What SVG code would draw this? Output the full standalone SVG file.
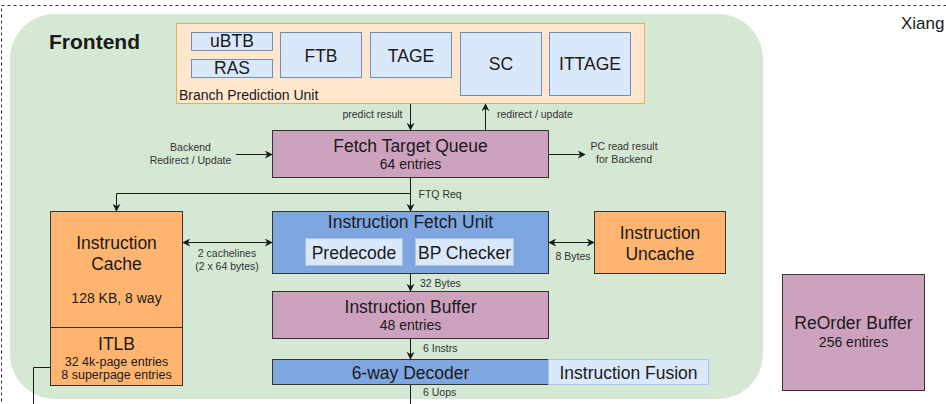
<svg xmlns="http://www.w3.org/2000/svg" width="946" height="404" viewBox="0 0 946 404">
<style>
text{font-family:"Liberation Sans",Arial,sans-serif;fill:#1a1a1a}
.big{font-size:17.5px;text-anchor:middle}
.mid{font-size:14px;text-anchor:middle}
.sm{font-size:12.5px;text-anchor:middle}
.lbl{font-size:10.5px;fill:#333}
.c{text-anchor:middle}
.sub{fill:#dae8fc;stroke:#6c8ebf;stroke-width:1}
.sub2{fill:#dae8fc;stroke:#a9c4eb;stroke-width:1}
.pink{fill:#cda2be;stroke:#333;stroke-width:1}
.blue{fill:#7ea6e0;stroke:#333;stroke-width:1}
.orange{fill:#ffb570;stroke:#333;stroke-width:1}
.ln{fill:none;stroke:#1a1a1a;stroke-width:1}
</style>
<defs>
<marker id="ah" viewBox="0 0 10 10" refX="9" refY="5" markerWidth="8" markerHeight="8" markerUnits="userSpaceOnUse" orient="auto-start-reverse">
<path d="M0,0 L10,5 L0,10 L3,5 Z" fill="#1a1a1a"/>
</marker>
</defs>
<rect x="1.5" y="5.5" width="1000" height="500" fill="none" stroke="#333" stroke-dasharray="3 3"/>
<text x="901" y="29" style="font-size:17px">Xiang</text>
<g id="frontend">
<rect x="10" y="14" width="753" height="385" rx="45" ry="45" fill="#d5e8d4"/>
<text x="49" y="49" style="font-size:21px;font-weight:bold">Frontend</text>
</g>
<g id="bpu">
<rect x="176.5" y="23.5" width="468" height="80" fill="#ffe6cc" stroke="#d6b656"/>
<text x="179" y="100" style="font-size:14px">Branch Prediction Unit</text>
</g>
<g id="ubtb"><rect class="sub" x="191.5" y="32.5" width="81" height="18"/><text class="big" x="232" y="47">uBTB</text></g>
<g id="ras"><rect class="sub" x="191.5" y="59.5" width="81" height="18"/><text class="big" x="232" y="74">RAS</text></g>
<g id="ftb"><rect class="sub" x="280.5" y="32.5" width="81" height="45"/><text class="big" x="321" y="61.5">FTB</text></g>
<g id="tage"><rect class="sub" x="370.5" y="32.5" width="81" height="45"/><text class="big" x="411" y="61.5">TAGE</text></g>
<g id="sc"><rect class="sub" x="460.5" y="32.5" width="81" height="63"/><text class="big" x="501" y="70">SC</text></g>
<g id="ittage"><rect class="sub" x="549.5" y="32.5" width="81" height="63"/><text class="big" x="590" y="70">ITTAGE</text></g>
<g id="ftq"><rect class="pink" x="272.5" y="130.5" width="276" height="47"/><text class="big" x="410.5" y="152">Fetch Target Queue</text><text class="mid" x="410.5" y="169">64 entries</text></g>
<g id="ifu"><rect class="blue" x="272.5" y="211.5" width="276" height="62"/><text class="big" x="410.5" y="227.5">Instruction Fetch Unit</text></g>
<g id="predecode"><rect class="sub2" x="305.5" y="238.5" width="97" height="27"/><text class="big" x="354" y="258.5">Predecode</text></g>
<g id="bpchecker"><rect class="sub2" x="415.5" y="238.5" width="98" height="27"/><text class="big" x="464.5" y="258.5">BP Checker</text></g>
<g id="icache"><rect class="orange" x="50.5" y="211.5" width="132" height="116"/><text class="big" x="116.5" y="248.5">Instruction</text><text class="big" x="116.5" y="270">Cache</text><text class="mid" x="116.5" y="303">128 KB, 8 way</text></g>
<g id="itlb"><rect class="orange" x="50.5" y="327.5" width="132" height="58"/><text class="big" x="116.5" y="350">ITLB</text><text class="sm" x="116.5" y="365.5">32 4k-page entries</text><text class="sm" x="116.5" y="378.5">8 superpage entries</text></g>
<g id="uncache"><rect class="orange" x="594.5" y="211.5" width="131" height="62"/><text class="big" x="660" y="238.5">Instruction</text><text class="big" x="660" y="260">Uncache</text></g>
<g id="ibuf"><rect class="pink" x="272.5" y="291.5" width="276" height="47"/><text class="big" x="410.5" y="313">Instruction Buffer</text><text class="mid" x="410.5" y="330">48 entries</text></g>
<g id="decoder"><rect class="blue" x="272.5" y="359.5" width="276" height="25"/><text class="big" x="410.5" y="379">6-way Decoder</text></g>
<g id="fusion"><rect class="sub2" x="548.5" y="359.5" width="160" height="25"/><text class="big" x="628.5" y="379">Instruction Fusion</text></g>
<g id="rob"><rect class="pink" x="782.5" y="274.5" width="142" height="116"/><text class="big" x="853.5" y="329">ReOrder Buffer</text><text class="mid" x="853.5" y="346.5">256 entires</text></g>
<g id="connectors">
<path class="ln" d="M410.5,104 V130" marker-end="url(#ah)"/>
<text class="lbl" x="402.5" y="118" text-anchor="end">predict result</text>
<path class="ln" d="M485.5,130 V104" marker-end="url(#ah)"/>
<text class="lbl" x="497" y="118">redirect / update</text>
<path class="ln" d="M236,154.5 H272" marker-end="url(#ah)"/>
<text class="lbl c" x="190.5" y="151">Backend</text>
<text class="lbl c" x="190.5" y="163.5">Redirect / Update</text>
<path class="ln" d="M549,154.5 H585" marker-end="url(#ah)"/>
<text class="lbl c" x="624" y="150">PC read result</text>
<text class="lbl c" x="624" y="162.5">for Backend</text>
<path class="ln" d="M410.5,178 V211" marker-end="url(#ah)"/>
<path class="ln" d="M410.5,193.5 H116.5 V211" marker-end="url(#ah)"/>
<text class="lbl" x="418.5" y="197.5">FTQ Req</text>
<path class="ln" d="M183,242.5 H272" marker-start="url(#ah)" marker-end="url(#ah)"/>
<text class="lbl c" x="227" y="256.5">2 cachelines</text>
<text class="lbl c" x="227" y="270">(2 x 64 bytes)</text>
<path class="ln" d="M549,242.5 H594" marker-start="url(#ah)" marker-end="url(#ah)"/>
<text class="lbl c" x="573" y="260">8 Bytes</text>
<path class="ln" d="M410.5,274 V291" marker-end="url(#ah)"/>
<text class="lbl" x="420" y="286.5">32 Bytes</text>
<path class="ln" d="M410.5,339 V359" marker-end="url(#ah)"/>
<text class="lbl" x="423" y="351.5">6 Instrs</text>
<path class="ln" d="M410.5,385 V404"/>
<text class="lbl" x="423" y="396">6 Uops</text>
<path class="ln" d="M50,367.5 H33.5 V404"/>
</g>
</svg>
